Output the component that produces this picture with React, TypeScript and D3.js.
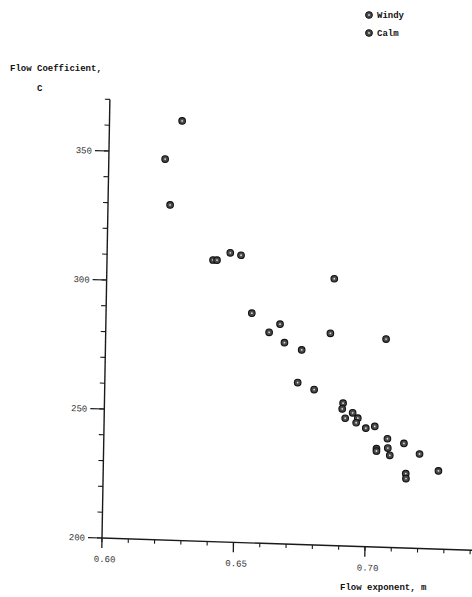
import * as d3 from "d3"

// Flow exponent (n) and flow coefficient (C)
const windyN = [0.6276, 0.6214, 0.6236, 0.6403, 0.6418, 0.6468, 0.6509, 0.6554, 0.6865, 0.6662, 0.6621, 0.668, 0.6746, 0.6854, 0.7066]
const windyC = [362.6, 347.6, 329.9, 309.1, 309.1, 312.1, 311.3, 289.0, 303.4, 285.1, 281.8, 278.0, 275.4, 282.2, 280.7]
const calmN = [0.6733, 0.6796, 0.6907, 0.6904, 0.6916, 0.6944, 0.6964, 0.6958, 0.6995, 0.7029, 0.7078, 0.7141, 0.7037, 0.7037, 0.708, 0.7088, 0.7201, 0.715, 0.7151, 0.7274]
const calmC = [262.7, 260.2, 255.3, 253.1, 249.5, 251.7, 249.7, 247.9, 245.9, 246.7, 242.1, 240.5, 238.1, 237.2, 238.5, 235.7, 236.6, 228.8, 226.9, 230.3]

const xMajor = [0.6, 0.65, 0.7]
const xLabels = ["0.60", "0.65", "0.70"]
const yMajor = [200, 250, 300, 350]
const yLabels = ["200", "250", "300", "350"]
const legendNames = ["Windy", "Calm"]

const mono = "'Liberation Mono', 'DejaVu Sans Mono', monospace"

function Marker({ cx, cy }: { cx: number; cy: number }) {
  return (
    <g>
      <circle cx={cx} cy={cy} r={3.3} fill="#4a4a4a" stroke="#111" strokeWidth={1.1} />
      <circle cx={cx} cy={cy} r={0.9} fill="#d8d8d8" />
    </g>
  )
}

export default function App() {
  const width = 472
  const height = 597

  // the scan is slightly skewed, so the plot sits in a tilted frame
  const x = d3.scaleLinear().domain([0.6, 0.741]).range([0, 370.8])
  const y = d3.scaleLinear().domain([200, 370]).range([0, -438.6])

  const xMinor = d3.range(0.6, 0.7405, 0.01)
  const yMinor = d3.range(200, 370.5, 10)

  const windy = windyN.map((n, i) => ({ n, c: windyC[i] }))
  const calm = calmN.map((n, i) => ({ n, c: calmC[i] }))

  return (
    <svg width={width} height={height} style={{ position: "absolute", left: 0, top: 0, background: "#fff" }}>
      <g transform="matrix(1,0.033,-0.018,1,102,538)">
        {/* axes */}
        <line x1={0} x2={x(0.741)} y1={0} y2={0} stroke="#1a1a1a" strokeWidth={1.4} />
        <line x1={0} x2={0} y1={0} y2={y(370)} stroke="#1a1a1a" strokeWidth={1.4} />

        {xMinor.map((t) => (
          <line key={"xm" + t} x1={x(t)} x2={x(t)} y1={0} y2={4} stroke="#1a1a1a" strokeWidth={1.1} />
        ))}
        {xMajor.map((t, i) => (
          <g key={"xM" + t}>
            <line x1={x(t)} x2={x(t)} y1={0} y2={10} stroke="#1a1a1a" strokeWidth={1.3} />
            <text x={x(t) + 3} y={24} textAnchor="middle" fontFamily={mono} fontSize={9} fill="#333">
              {xLabels[i]}
            </text>
          </g>
        ))}

        {yMinor.map((t) => (
          <line key={"ym" + t} x1={-5} x2={0} y1={y(t)} y2={y(t)} stroke="#1a1a1a" strokeWidth={1.1} />
        ))}
        {yMajor.map((t, i) => (
          <g key={"yM" + t}>
            <line x1={-14} x2={0} y1={y(t)} y2={y(t)} stroke="#1a1a1a" strokeWidth={1.2} />
            <text x={-17} y={y(t)} dy="0.35em" textAnchor="end" fontFamily={mono} fontSize={9} fill="#333">
              {yLabels[i]}
            </text>
          </g>
        ))}

        {windy.map((d, i) => (
          <Marker key={"w" + i} cx={x(d.n)} cy={y(d.c)} />
        ))}
        {calm.map((d, i) => (
          <Marker key={"c" + i} cx={x(d.n)} cy={y(d.c)} />
        ))}
      </g>

      {/* legend */}
      {legendNames.map((name, i) => (
        <g key={name} transform={`translate(369,${15 + i * 18})`}>
          <Marker cx={0} cy={0} />
          <text x={8} y={0} dy="0.35em" fontFamily={mono} fontWeight="bold" fontSize={9} fill="#111">
            {name}
          </text>
        </g>
      ))}

      {/* axis titles */}
      <text x={10} y={71} fontFamily={mono} fontWeight="bold" fontSize={9} fill="#111">
        Flow Coefficient,
      </text>
      <text x={37} y={91} fontFamily={mono} fontWeight="bold" fontSize={9} fill="#111">
        C
      </text>
      <text x={340} y={590} fontFamily={mono} fontWeight="bold" fontSize={9} fill="#111">
        Flow exponent, m
      </text>
    </svg>
  )
}
